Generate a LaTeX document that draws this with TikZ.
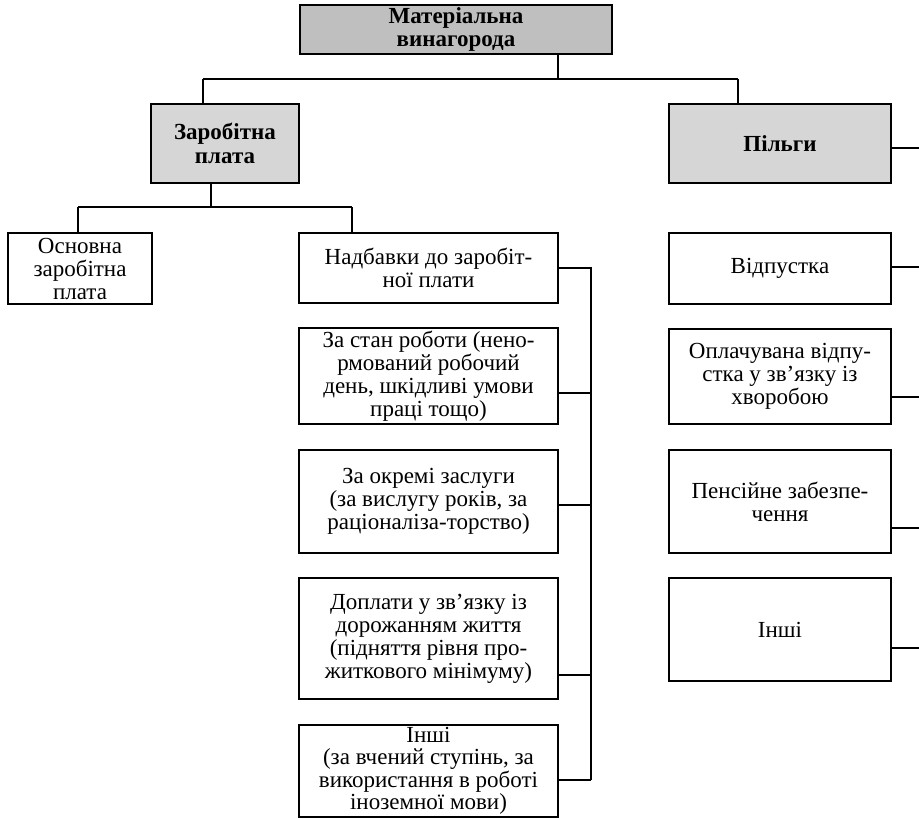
\documentclass[tikz,border=0pt]{standalone}
\usepackage{fontspec}
\setmainfont{Liberation Serif}
\definecolor{topgray}{HTML}{BFBFBF}
\definecolor{midgray}{HTML}{D6D6D6}
\begin{document}
\begin{tikzpicture}[x=1pt,y=-1pt,line width=1.4pt,
  box/.style={draw,rectangle,inner sep=0pt,align=center,
    font=\fontsize{23}{23}\selectfont},
  hbox/.style={box,font=\fontsize{23}{23.5}\selectfont\bfseries}]
\useasboundingbox (0,0) rectangle (919,819);
% level 0
\node[hbox,fill=topgray,minimum width=312,minimum height=49] (top) at (456,29.5) {Матеріальна\\винагорода};
% level 1
\node[hbox,fill=midgray,minimum width=148,minimum height=79] (zp) at (225,143.5) {Заробітна\\плата};
\node[hbox,fill=midgray,minimum width=222,minimum height=79] (pil) at (780,143.5) {Пільги};
% left branch
\node[box,minimum width=144,minimum height=71] (osn) at (80,268.5) {Основна\\заробітна\\плата};
\node[box,minimum width=259,minimum height=70] (nad) at (428.5,268) {Надбавки до заробіт-\\ної плати};
\node[box,minimum width=259,minimum height=96] (stan) at (428.5,376) {За стан роботи (нено-\\рмований робочий\\день, шкідливі умови\\праці тощо)};
\node[box,minimum width=259,minimum height=103] (okr) at (428.5,501.5) {За окремі заслуги\\(за вислугу років, за\\раціоналіза-торство)};
\node[box,minimum width=259,minimum height=121] (dop) at (428.5,638.5) {Доплати у зв’язку із\\дорожанням життя\\(підняття рівня про-\\житкового мінімуму)};
\node[box,minimum width=259,minimum height=92,font=\fontsize{23}{22.5}\selectfont] (insh) at (428.5,771) {Інші\\(за вчений ступінь, за\\використання в роботі\\іноземної мови)};
% right branch
\node[box,minimum width=222,minimum height=71] (vid) at (780,268.5) {Відпустка};
\node[box,minimum width=222,minimum height=95] (opl) at (780,376.5) {Оплачувана відпу-\\стка у зв’язку із\\хворобою};
\node[box,minimum width=222,minimum height=103] (pen) at (780,501.5) {Пенсійне забезпе-\\чення};
\node[box,minimum width=222,minimum height=103] (ins2) at (780,629.5) {Інші};
% connectors top
\coordinate (a) at (558,79);
\coordinate (bl) at (203,79);
\coordinate (br) at (738,79);
\draw (top.south -| a) -- (a);
\draw (bl) -- (br);
\draw (bl) -- (zp.north -| bl);
\draw (br) -- (pil.north -| br);
% connectors under Заробітна плата
\coordinate (z) at (211,207);
\coordinate (zl) at (78,207);
\coordinate (zr) at (352,207);
\draw (zp.south -| z) -- (z);
\draw (zl) -- (zr);
\draw (zl) -- (osn.north -| zl);
\draw (zr) -- (nad.north -| zr);
% right bus of Надбавки
\coordinate (v1) at (591,268);
\coordinate (v2) at (591,393);
\coordinate (v3) at (591,505);
\coordinate (v4) at (591,675);
\coordinate (v5) at (591,780);
\draw (nad.east |- v1) -- (v1) -- (v5);
\draw (stan.east |- v2) -- (v2);
\draw (okr.east |- v3) -- (v3);
\draw (dop.east |- v4) -- (v4);
\draw (insh.east |- v5) -- (v5);
% right side stubs leaving the picture
\coordinate (e0) at (919,148);
\coordinate (e1) at (919,267);
\coordinate (e2) at (919,397);
\coordinate (e3) at (919,528);
\coordinate (e4) at (919,648);
\draw (pil.east |- e0) -- (e0);
\draw (vid.east |- e1) -- (e1);
\draw (opl.east |- e2) -- (e2);
\draw (pen.east |- e3) -- (e3);
\draw (ins2.east |- e4) -- (e4);
\end{tikzpicture}
\end{document}
